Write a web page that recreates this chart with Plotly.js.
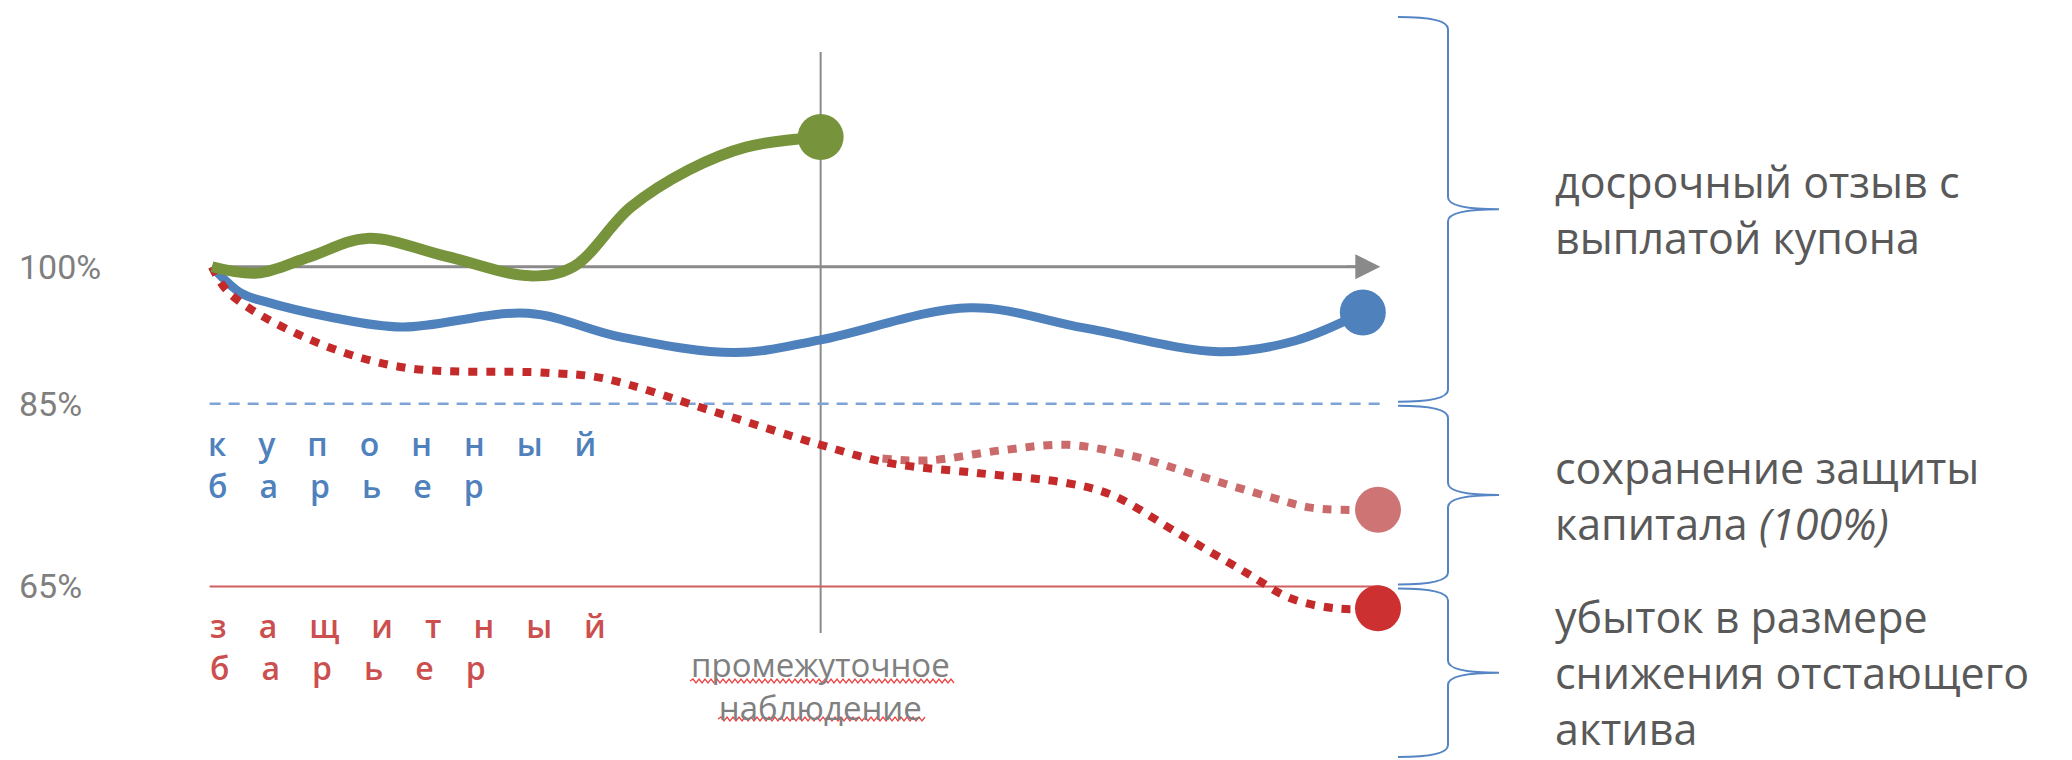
<!DOCTYPE html>
<html><head><meta charset="utf-8">
<script src="https://cdn.plot.ly/plotly-3.0.1.min.js"></script>
<style>html,body{margin:0;padding:0;background:#fff;overflow:hidden}#chart{width:2072px;height:760px}</style>
</head><body><div id="chart"></div>
<script>
// ---- data (time in % of product life, value in % of initial level) ----
const observationTime = 52.2;
const horizonTime = 100.2;
const levelTicks = [100, 85, 65];
const levelTickText = ['100%', '85%', '65%'];
const couponBarrier = 85;
const protectionBarrier = 65;

const earlyTime  = [0, 3.9, 8.4, 13.3, 20.2, 27.3, 31.0, 35.9, 40.9, 45.8, 52.2];
const earlyValue = [100, 99.3, 101.1, 103.1, 101.1, 99.0, 100.0, 106.5, 110.6, 113.1, 114.2];

const couponTime  = [0, 2.5, 4.5, 10.1, 16.3, 27.1, 35.1, 44.9, 52.2, 65.0, 74.8, 86.4, 92.9, 98.7];
const couponValue = [100, 97.1, 96.2, 94.5, 93.4, 94.9, 92.3, 90.6, 92.0, 95.5, 93.3, 90.7, 91.9, 95.0];

const lossTime  = [0, 1.5, 7.9, 16.3, 28.6, 33.5, 43.4, 52.2, 58.1, 65.8, 73.4, 77.2, 82.9, 88.7, 92.5, 96.4, 100];
const lossValue = [100, 97.1, 92.3, 89.0, 88.4, 87.8, 84.0, 80.5, 78.5, 77.4, 76.3, 75.0, 70.8, 66.5, 63.7, 62.6, 62.6];

const protectTime  = [57.5, 61.5, 67.7, 73.4, 79.2, 84.9, 90.7, 94.4, 100];
const protectValue = [79.0, 78.8, 79.9, 80.5, 79.2, 77.0, 74.8, 73.6, 73.4];

const couponLabel = ['к','у','п','о','н','н','ы','й'];
const couponLabel2 = ['б','а','р','ь','е','р'];
const protectLabel = ['з','а','щ','и','т','н','ы','й'];
const protectLabel2 = ['б','а','р','ь','е','р'];
const outcomeTexts = [
  'досрочный отзыв с<br>выплатой купона',
  'сохранение защиты<br>капитала <i>(100%)</i>',
  'убыток в размере<br>снижения отстающего<br>актива'
];
const observationText = 'промежуточное<br>наблюдение';

// ---- layout helpers ----
const W = 2072, H = 760;
const xRange = [-18.18, 159.52], yRange = [46.0, 129.2];
const pxPerY = H / (yRange[1] - yRange[0]);
const px = v => v / W;
const py = v => 1 - v / H;
const last = a => a[a.length - 1];
const braceTop = yRange[1] - 17 / pxPerY;
const braceBottom = yRange[1] - 757 / pxPerY;
const gap = 2 / pxPerY;

function bracePath(yTop, yBot) {
  const xe = px(1398), xs = px(1448), xt = px(1499);
  const r = 12 / pxPerY, ym = (yTop + yBot) / 2;
  return `M${xe},${yTop} Q${xs},${yTop} ${xs},${yTop - r} L${xs},${ym + r} ` +
         `Q${xs},${ym} ${xt},${ym} Q${xs},${ym} ${xs},${ym - r} ` +
         `L${xs},${yBot + r} Q${xs},${yBot} ${xe},${yBot}`;
}
function wavy(x0, x1, y) {
  let d = `M${px(x0)},${py(y)}`, up = true;
  for (let x = x0 + 3; x <= x1; x += 3) { d += ` L${px(x)},${py(y + (up ? -2 : 2))}`; up = !up; }
  return d;
}
const spaced = a => a.join('\u2003');

const braces = [
  [braceTop, couponBarrier + gap],
  [couponBarrier - gap, protectionBarrier + gap],
  [protectionBarrier - gap, braceBottom]
];

const traces = [
  {x: [-0.2, horizonTime], y: [couponBarrier, couponBarrier], mode: 'lines',
   line: {color: '#7ea3d6', width: 2.5, dash: '11px,8px'}},
  {x: [-0.2, horizonTime], y: [protectionBarrier, protectionBarrier], mode: 'lines',
   line: {color: '#d25f5f', width: 2}},
  {x: protectTime, y: protectValue, mode: 'lines',
   line: {shape: 'spline', color: '#cb6a6a', width: 8, dash: '9px,9px'}},
  {x: couponTime, y: couponValue, mode: 'lines',
   line: {shape: 'spline', color: '#4f81bd', width: 9}},
  {x: lossTime, y: lossValue, mode: 'lines',
   line: {shape: 'spline', color: '#c42a2a', width: 8, dash: '9px,9px'}},
  {x: earlyTime, y: earlyValue, mode: 'lines',
   line: {shape: 'spline', color: '#77933c', width: 11}},
  {x: [last(earlyTime), last(couponTime), last(protectTime), last(lossTime)],
   y: [last(earlyValue), last(couponValue), last(protectValue), last(lossValue)],
   mode: 'markers',
   marker: {size: 46, color: ['#77933c', '#4f81bd', '#cf7474', '#cc3030'], line: {width: 0}}}
];

const shapes = [
  {type: 'line', xref: 'x', yref: 'y', x0: 0, x1: horizonTime - 1, y0: 100, y1: 100,
   line: {color: '#8a8a8a', width: 3}, layer: 'below'},
  {type: 'line', xref: 'x', yref: 'y', x0: observationTime, x1: observationTime,
   y0: yRange[1] - 633 / pxPerY, y1: yRange[1] - 52 / pxPerY,
   line: {color: '#8a8a8a', width: 2}, layer: 'below'},
  ...braces.map(b => ({type: 'path', xref: 'paper', yref: 'y', path: bracePath(b[0], b[1]),
   line: {color: '#5585c5', width: 2}})),
  {type: 'path', xref: 'paper', yref: 'paper', path: wavy(690, 955, 681), line: {color: '#ee4444', width: 1.3}},
  {type: 'path', xref: 'paper', yref: 'paper', path: wavy(718, 926, 719), line: {color: '#ee4444', width: 1.3}}
];

const rightFont = {family: 'Open Sans', size: 43, color: '#595959'};
const annotations = [
  {x: horizonTime, y: 100, ax: horizonTime - 3, ay: 100, axref: 'x', ayref: 'y', xref: 'x', yref: 'y',
   showarrow: true, arrowhead: 2, arrowsize: 2, arrowwidth: 2.5, arrowcolor: '#8a8a8a', text: ''},
  {xref: 'paper', yref: 'paper', x: px(206), y: py(464), xanchor: 'left', yanchor: 'middle', align: 'left',
   showarrow: false, text: spaced(couponLabel) + '<br>' + spaced(couponLabel2),
   font: {family: 'Open Sans', size: 32, color: '#4f81bd', weight: 600}},
  {xref: 'paper', yref: 'paper', x: px(208), y: py(646.5), xanchor: 'left', yanchor: 'middle', align: 'left',
   showarrow: false, text: spaced(protectLabel) + '<br>' + spaced(protectLabel2),
   font: {family: 'Open Sans', size: 32, color: '#cc4f4f', weight: 600}},
  {xref: 'x', yref: 'paper', x: observationTime, y: py(685.5), xanchor: 'center', yanchor: 'middle', align: 'center',
   showarrow: false, text: observationText, font: {family: 'Open Sans', size: 33, color: '#808080'}},
  ...braces.map((b, i) => ({xref: 'paper', yref: 'y', x: px(1553), y: (b[0] + b[1]) / 2,
   xanchor: 'left', yanchor: 'middle', align: 'left', showarrow: false,
   text: outcomeTexts[i], font: rightFont}))
];

const layout = {
  width: W, height: H, margin: {l: 0, r: 0, t: 0, b: 0},
  paper_bgcolor: '#fff', plot_bgcolor: '#fff', showlegend: false,
  xaxis: {range: xRange, visible: false, fixedrange: true},
  yaxis: {range: yRange, showgrid: false, zeroline: false, showline: false, ticks: '',
    tickvals: levelTicks, ticktext: levelTickText, ticklabelposition: 'inside', ticklabelstandoff: 16,
    tickfont: {family: 'Roboto', size: 34, color: '#7f7f7f'}, fixedrange: true},
  shapes, annotations
};
Plotly.newPlot('chart', traces, layout, {staticPlot: true, displayModeBar: false});
</script></body></html>
